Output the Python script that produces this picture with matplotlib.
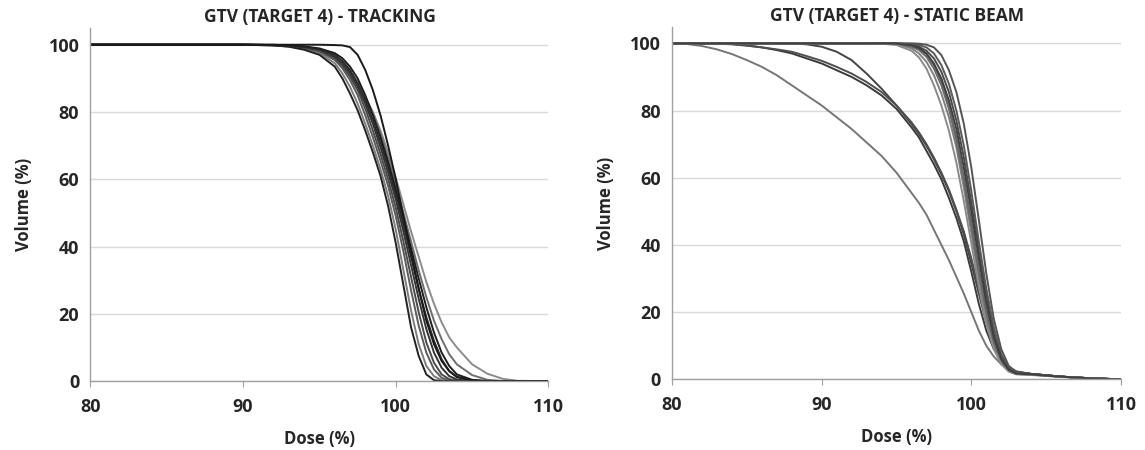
import matplotlib.pyplot as plt

# dose grid (%) for the tracking panel
dose_trk = [80, 90, 92, 93, 94, 95, 96, 96.5, 97, 97.5, 98, 98.5, 99, 99.5, 100,
            100.5, 101, 101.5, 102, 102.5, 103, 103.5, 104, 105, 106, 107, 108, 110]

trk_a = [100, 100, 100, 100, 100, 100, 99.9, 99.8, 99.3, 97, 92.5, 86.5, 79, 70, 60, 49, 38, 27.5, 18, 11, 6, 3, 1.3, 0.2, 0, 0, 0, 0]
trk_b = [100, 100, 99.8, 99.4, 98.5, 97, 93.5, 90, 85.5, 80.5, 74.5, 68, 61, 52, 41, 28.5, 16, 7.5, 2, 0.3, 0, 0, 0, 0, 0, 0, 0, 0]
trk_c = [100, 100, 99.8, 99.5, 99, 98, 95.5, 93.5, 91, 88, 84.5, 80, 74.5, 68, 60.5, 52.5, 44.5, 37, 29.5, 23, 17.5, 13, 10, 5, 2.2, 0.7, 0.1, 0]
trk_d = [100, 100, 99.9, 99.7, 99.2, 98.3, 96.2, 94.5, 92, 88.8, 84.5, 79.5, 73.5, 66.5, 58.5, 50, 41.5, 33, 25, 18, 12.5, 8, 5, 1.8, 0.4, 0.05, 0, 0]
trk_e = [100, 100, 99.9, 99.8, 99.4, 98.7, 97, 95.2, 92.5, 88.5, 83.5, 77.5, 71, 63.5, 55.5, 46.5, 37, 27.5, 19, 12, 6.5, 3, 1.2, 0.2, 0, 0, 0, 0]
trk_f = [100, 100, 99.8, 99.5, 98.8, 97.5, 94.5, 91.5, 87.5, 82.5, 76.5, 70, 63, 55, 45, 33, 21, 11, 4.5, 1.5, 0.3, 0, 0, 0, 0, 0, 0, 0]
trk_g = [100, 100, 99.9, 99.7, 99.3, 98.5, 96.5, 94.5, 91.5, 87.5, 82.5, 76.5, 69.5, 62, 54, 44.5, 34.5, 24.5, 15.5, 8.5, 4, 1.5, 0.5, 0, 0, 0, 0, 0]
trk_h = [100, 100, 99.9, 99.6, 99, 98, 95.5, 93, 89.5, 85, 79, 72.5, 65.5, 58, 49, 38.5, 27, 16.5, 8.5, 3.5, 1, 0.2, 0, 0, 0, 0, 0, 0]
trk_i = [100, 100, 100, 99.8, 99.5, 98.9, 97.5, 96, 93.5, 90, 85, 79, 72.5, 65, 57, 48.5, 39.5, 30.5, 22, 14.5, 8.5, 4.5, 2, 0.4, 0.05, 0, 0, 0]
trk_j = [100, 100, 99.9, 99.7, 99.2, 98.3, 96, 93.8, 90.5, 86.5, 81, 74.5, 67.5, 60, 51.5, 41.5, 31, 20.5, 11.5, 5.5, 2, 0.6, 0.1, 0, 0, 0, 0, 0]

# dose grid (%) for the static beam panel
dose_sta = [80, 81, 82, 83, 84, 85, 86, 87, 88, 89, 90, 91, 92, 93, 94, 95, 96, 96.5,
            97, 97.5, 98, 98.5, 99, 99.5, 100, 100.5, 101, 101.5, 102, 102.5, 103,
            104, 105, 106, 108, 110]

sta_grad = [100, 99.8, 99.2, 98.2, 96.8, 95, 93, 90.5, 87.5, 84.5, 81.5, 78, 74.5, 70.5, 66.5, 61.5, 55.5, 52.5,
            49, 44.5, 40, 35.5, 30.5, 25.5, 20, 14.5, 10, 6.8, 4.5, 3, 2.2, 1.6, 1.2, 0.8, 0.3, 0]
sta_m1 = [100, 100, 100, 100, 99.8, 99.4, 98.8, 98, 97, 95.5, 94, 92, 90, 87.5, 84.5, 80.5, 75, 72,
          68, 64, 59.5, 54, 48, 41, 32, 22.5, 14.5, 9, 5.5, 3.3, 2.2, 1.6, 1.2, 0.8, 0.3, 0]
sta_m2 = [100, 100, 100, 100, 100, 100, 100, 100, 100, 99.7, 99, 97.5, 95, 91, 86.5, 81.5, 76, 73,
          69.5, 65.5, 61, 56, 50, 43, 34.5, 25.5, 17, 10.5, 6, 3.5, 2.2, 1.6, 1.2, 0.8, 0.3, 0]
sta_m3 = [100, 100, 100, 99.9, 99.7, 99.3, 98.8, 98.2, 97.5, 96.2, 94.8, 93, 91, 88.5, 85.5, 81.5, 76.5, 73.5,
          70, 66, 61.5, 56.5, 50.5, 44, 36, 27, 18, 11, 6.5, 3.8, 2.4, 1.6, 1.2, 0.8, 0.3, 0]
sta_s1 = [100, 100, 100, 100, 100, 100, 100, 100, 100, 100, 100, 100, 100, 100, 100, 99.9, 99.3, 98.5,
          96.8, 93.5, 88.5, 81.5, 72, 60, 47, 33, 21, 12, 6, 3, 1.8, 1.6, 1.2, 0.8, 0.3, 0]
sta_s2 = [100, 100, 100, 100, 100, 100, 100, 100, 100, 100, 100, 100, 100, 100, 100, 100, 99.8, 99.5,
          98.8, 97, 93.5, 88, 80, 69.5, 56, 41, 27, 15.5, 7.5, 3.5, 2, 1.6, 1.2, 0.8, 0.3, 0]
sta_s3 = [100, 100, 100, 100, 100, 100, 100, 100, 100, 100, 100, 100, 100, 100, 100, 99.8, 98.5, 97,
          94.5, 90.5, 85, 78, 69, 57, 43.5, 30, 18.5, 10, 5, 2.5, 1.6, 1.4, 1.1, 0.8, 0.3, 0]
sta_s4 = [100, 100, 100, 100, 100, 100, 100, 100, 100, 100, 100, 100, 100, 100, 100, 100, 99.6, 99,
          97.8, 95.5, 91.5, 85.5, 77, 66, 52.5, 38, 24.5, 13.5, 6.5, 3, 1.8, 1.6, 1.2, 0.8, 0.3, 0]
sta_s5 = [100, 100, 100, 100, 100, 100, 100, 100, 100, 100, 100, 100, 100, 100, 100, 99.9, 99, 98,
          96, 92.5, 87.5, 80.5, 71, 59, 45.5, 32, 20, 11, 5.2, 2.5, 1.6, 1.4, 1.1, 0.8, 0.3, 0]
sta_s6 = [100, 100, 100, 100, 100, 100, 100, 100, 100, 100, 100, 100, 100, 100, 100, 100, 100, 99.9,
          99.6, 98.8, 96.5, 92, 85.5, 76, 63, 47.5, 31.5, 18, 9, 4, 2.1, 1.6, 1.2, 0.8, 0.3, 0]
sta_s7 = [100, 100, 100, 100, 100, 100, 100, 100, 100, 100, 100, 100, 100, 100, 99.9, 99.5, 97.8, 95.8,
          92.5, 87.5, 81.5, 74, 64.5, 53, 40.5, 27.5, 16.5, 9, 4.5, 2.3, 1.5, 1.3, 1.0, 0.7, 0.3, 0]
sta_s8 = [100, 100, 100, 100, 100, 100, 100, 100, 100, 100, 100, 100, 100, 100, 100, 99.9, 99.4, 98.6,
          97, 94, 89.5, 83, 74.5, 63, 50, 36, 23, 12.5, 6, 2.8, 1.7, 1.5, 1.1, 0.8, 0.3, 0]

trk_curves = [trk_c, trk_d, trk_f, trk_h, trk_j, trk_b, trk_e, trk_g, trk_i, trk_a]
trk_colors = ['#8c8c8c', '#6e6e6e', '#7c7c7c', '#5c5c5c', '#4a4a4a',
              '#222222', '#2a2a2a', '#333333', '#1e1e1e', '#1a1a1a']
sta_curves = [sta_grad, sta_m1, sta_m2, sta_m3, sta_s1, sta_s2, sta_s3,
              sta_s4, sta_s5, sta_s6, sta_s7, sta_s8]
sta_colors = ['#767676', '#3a3a3a', '#444444', '#4e4e4e', '#666666', '#5a5a5a',
              '#808080', '#4a4a4a', '#6a6a6a', '#555555', '#8a8a8a', '#404040']

plt.rcParams['font.family'] = ['Open Sans', 'DejaVu Sans']

fig = plt.figure(figsize=(11.45, 4.5), dpi=100)
ax1 = fig.add_axes([0.079, 0.153, 0.400, 0.785])
ax2 = fig.add_axes([0.587, 0.157, 0.392, 0.784])


def style(ax, title):
    ax.set_xlim(80, 110)
    ax.set_ylim(0, 105)
    ax.set_xticks([80, 90, 100, 110])
    ax.set_yticks([0, 20, 40, 60, 80, 100])
    ax.yaxis.grid(True, color='#d9d9d9', linewidth=1)
    ax.set_axisbelow(True)
    for s in ['top', 'right']:
        ax.spines[s].set_visible(False)
    for s in ['left', 'bottom']:
        ax.spines[s].set_color('#a0a0a0')
        ax.spines[s].set_linewidth(1)
    ax.tick_params(axis='x', length=4, color='#a0a0a0', labelsize=13,
                   labelcolor='#262626', pad=8)
    ax.tick_params(axis='y', length=0, labelsize=13, labelcolor='#262626', pad=8)
    for lab in ax.get_xticklabels() + ax.get_yticklabels():
        lab.set_fontweight('bold')
    ax.set_xlabel('Dose (%)', fontsize=12, fontweight='bold', color='#262626', labelpad=10)
    ax.set_ylabel('Volume (%)', fontsize=12, fontweight='bold', color='#262626', labelpad=11)
    ax.set_title(title, fontsize=12.5, fontweight='bold', color='#262626', pad=4)


for y, c in zip(trk_curves, trk_colors):
    ax1.plot(dose_trk, y, color=c, linewidth=1.4)
for y, c in zip(sta_curves, sta_colors):
    ax2.plot(dose_sta, y, color=c, linewidth=1.4)

style(ax1, 'GTV (TARGET 4) - TRACKING')
style(ax2, 'GTV (TARGET 4) - STATIC BEAM')

fig.savefig('out.png', dpi=100)
